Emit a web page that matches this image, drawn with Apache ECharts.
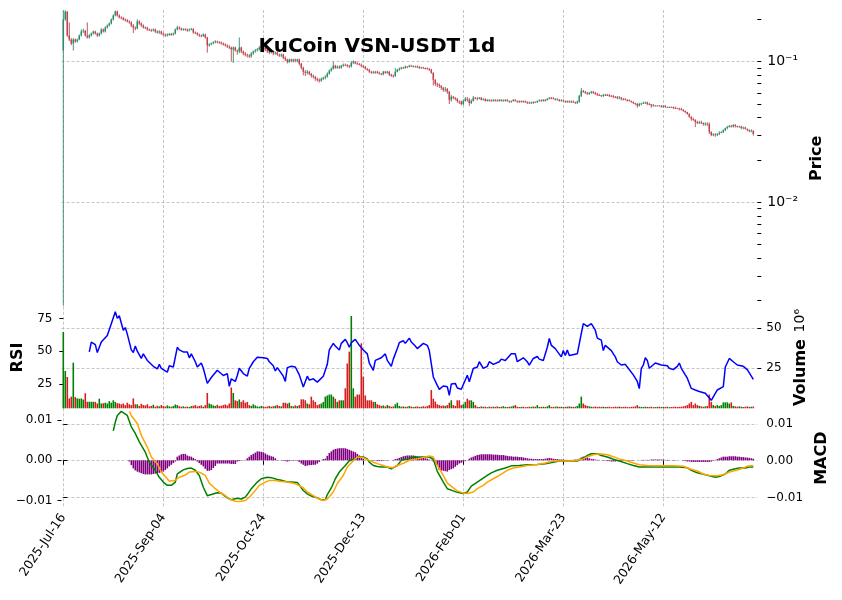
<!DOCTYPE html>
<html><head><meta charset="utf-8">
<script src="https://cdn.jsdelivr.net/npm/echarts@6/dist/echarts.min.js"></script>
<style>html,body{margin:0;padding:0;background:#fff}#c{width:842px;height:600px}</style>
</head><body><div id="c"></div>
<script>
// ---------------- DATA ----------------
const tickIndex = [0, 50, 100, 150, 200, 250, 300];
const tickLabels = ['2025-Jul-16','2025-Sep-04','2025-Oct-24','2025-Dec-13','2026-Feb-01','2026-Mar-23','2026-May-12'];

const opens = [
0.120,0.200,0.2275,0.1535,0.1438,0.1347,0.1438,0.1392,0.1438,0.1535,
0.1639,0.1660,0.1535,0.1486,0.1535,0.1586,0.1639,0.1586,0.1535,0.1586,
0.1694,0.1639,0.1750,0.1808,0.1868,0.1995,0.2130,0.2275,0.2130,0.2061,
0.2040,0.1995,0.1970,0.1931,0.1900,0.1808,0.1750,0.1720,0.1931,0.1868,
0.1808,0.1750,0.1740,0.1694,0.1680,0.1666,0.1694,0.1639,0.1613,0.1639,
0.1586,0.1561,0.1535,0.1561,0.1570,0.1561,0.1586,0.1694,0.1750,0.1722,
0.1694,0.1700,0.1694,0.1666,0.1694,0.1710,0.1613,0.1600,0.1561,0.1535,
0.1520,0.1561,0.1486,0.1304,0.1325,0.1347,0.1369,0.1392,0.1380,0.1369,
0.1347,0.1325,0.1304,0.1282,0.1259,0.1218,0.1259,0.1200,0.1179,0.1259,
0.1179,0.1141,0.1120,0.1104,0.1090,0.1141,0.1179,0.1200,0.1218,0.1259,
0.1282,0.1259,0.1218,0.1179,0.1161,0.1179,0.1141,0.1161,0.1123,0.1104,
0.1123,0.1068,0.1034,0.1000,0.1034,0.1017,0.1034,0.1017,0.1034,0.0968,
0.0906,0.0848,0.0834,0.0848,0.0821,0.0794,0.0781,0.0756,0.0744,0.0732,
0.0756,0.0769,0.0781,0.0821,0.0862,0.0891,0.0936,0.0906,0.0921,0.0906,
0.0936,0.0952,0.0945,0.0935,0.0925,0.0984,0.1000,0.0975,0.0960,0.0952,
0.0936,0.0921,0.0891,0.0877,0.0848,0.0840,0.0834,0.0848,0.0834,0.0821,
0.0815,0.0848,0.0834,0.0848,0.0807,0.0794,0.0790,0.0848,0.0877,0.0891,
0.0906,0.0900,0.0921,0.0915,0.0936,0.0930,0.0921,0.0925,0.0915,0.0906,
0.0910,0.0900,0.0895,0.0891,0.0877,0.0834,0.0744,0.0697,0.0685,0.0674,
0.0652,0.0631,0.0640,0.0611,0.0535,0.0562,0.0553,0.0544,0.0526,0.0518,
0.0501,0.0526,0.0544,0.0535,0.0509,0.0526,0.0553,0.0548,0.0544,0.0553,
0.0535,0.0540,0.0526,0.0535,0.0530,0.0526,0.0535,0.0530,0.0526,0.0535,
0.0526,0.0530,0.0535,0.0526,0.0518,0.0526,0.0535,0.0526,0.0522,0.0518,
0.0526,0.0522,0.0518,0.0512,0.0509,0.0512,0.0518,0.0515,0.0526,0.0530,
0.0526,0.0535,0.0532,0.0544,0.0553,0.0550,0.0544,0.0535,0.0538,0.0526,
0.0530,0.0526,0.0518,0.0522,0.0518,0.0520,0.0515,0.0509,0.0518,0.0572,
0.0621,0.0611,0.0601,0.0591,0.0601,0.0611,0.0601,0.0591,0.0581,0.0578,
0.0572,0.0578,0.0581,0.0578,0.0572,0.0568,0.0562,0.0560,0.0553,0.0556,
0.0544,0.0540,0.0535,0.0532,0.0526,0.0518,0.0509,0.0501,0.0485,0.0501,
0.0505,0.0509,0.0512,0.0501,0.0498,0.0485,0.0488,0.0485,0.0488,0.0485,
0.0480,0.0485,0.0477,0.0475,0.0477,0.0474,0.0470,0.0469,0.0465,0.0461,
0.0454,0.0446,0.0439,0.0425,0.0404,0.0391,0.0385,0.0373,0.0366,0.0370,
0.0366,0.0361,0.0364,0.0361,0.0316,0.0301,0.0304,0.0301,0.0306,0.0311,
0.0316,0.0327,0.0338,0.0343,0.0349,0.0346,0.0355,0.0349,0.0343,0.0346,
0.0338,0.0340,0.0332,0.0327,0.0321,0.0323];

const closes = [
0.200,0.2275,0.1535,0.1438,0.1347,0.1438,0.1392,0.1438,0.1535,0.1639,
0.1660,0.1535,0.1486,0.1535,0.1586,0.1639,0.1586,0.1535,0.1586,0.1694,
0.1639,0.1750,0.1808,0.1868,0.1995,0.2130,0.2275,0.2130,0.2061,0.2040,
0.1995,0.1970,0.1931,0.1900,0.1808,0.1750,0.1720,0.1931,0.1868,0.1808,
0.1750,0.1740,0.1694,0.1680,0.1666,0.1694,0.1639,0.1613,0.1639,0.1586,
0.1561,0.1535,0.1561,0.1570,0.1561,0.1586,0.1694,0.1750,0.1722,0.1694,
0.1700,0.1694,0.1666,0.1694,0.1710,0.1613,0.1600,0.1561,0.1535,0.1520,
0.1561,0.1486,0.1304,0.1325,0.1347,0.1369,0.1392,0.1380,0.1369,0.1347,
0.1325,0.1304,0.1282,0.1259,0.1218,0.1259,0.1200,0.1179,0.1259,0.1179,
0.1141,0.1120,0.1104,0.1090,0.1141,0.1179,0.1200,0.1218,0.1259,0.1282,
0.1259,0.1218,0.1179,0.1161,0.1179,0.1141,0.1161,0.1123,0.1104,0.1123,
0.1068,0.1034,0.1000,0.1034,0.1017,0.1034,0.1017,0.1034,0.0968,0.0906,
0.0848,0.0834,0.0848,0.0821,0.0794,0.0781,0.0756,0.0744,0.0732,0.0756,
0.0769,0.0781,0.0821,0.0862,0.0891,0.0936,0.0906,0.0921,0.0906,0.0936,
0.0952,0.0945,0.0935,0.0925,0.0984,0.1000,0.0975,0.0960,0.0952,0.0936,
0.0921,0.0891,0.0877,0.0848,0.0840,0.0834,0.0848,0.0834,0.0821,0.0815,
0.0848,0.0834,0.0848,0.0807,0.0794,0.0790,0.0848,0.0877,0.0891,0.0906,
0.0900,0.0921,0.0915,0.0936,0.0930,0.0921,0.0925,0.0915,0.0906,0.0910,
0.0900,0.0895,0.0891,0.0877,0.0834,0.0744,0.0697,0.0685,0.0674,0.0652,
0.0631,0.0640,0.0611,0.0535,0.0562,0.0553,0.0544,0.0526,0.0518,0.0501,
0.0526,0.0544,0.0535,0.0509,0.0526,0.0553,0.0548,0.0544,0.0553,0.0535,
0.0540,0.0526,0.0535,0.0530,0.0526,0.0535,0.0530,0.0526,0.0535,0.0526,
0.0530,0.0535,0.0526,0.0518,0.0526,0.0535,0.0526,0.0522,0.0518,0.0526,
0.0522,0.0518,0.0512,0.0509,0.0512,0.0518,0.0515,0.0526,0.0530,0.0526,
0.0535,0.0532,0.0544,0.0553,0.0550,0.0544,0.0535,0.0538,0.0526,0.0530,
0.0526,0.0518,0.0522,0.0518,0.0520,0.0515,0.0509,0.0518,0.0572,0.0621,
0.0611,0.0601,0.0591,0.0601,0.0611,0.0601,0.0591,0.0581,0.0578,0.0572,
0.0578,0.0581,0.0578,0.0572,0.0568,0.0562,0.0560,0.0553,0.0556,0.0544,
0.0540,0.0535,0.0532,0.0526,0.0518,0.0509,0.0501,0.0485,0.0501,0.0505,
0.0509,0.0512,0.0501,0.0498,0.0485,0.0488,0.0485,0.0488,0.0485,0.0480,
0.0485,0.0477,0.0475,0.0477,0.0474,0.0470,0.0469,0.0465,0.0461,0.0454,
0.0446,0.0439,0.0425,0.0404,0.0391,0.0385,0.0373,0.0366,0.0370,0.0366,
0.0361,0.0364,0.0361,0.0316,0.0301,0.0304,0.0301,0.0306,0.0311,0.0316,
0.0327,0.0338,0.0343,0.0349,0.0346,0.0355,0.0349,0.0343,0.0346,0.0338,
0.0340,0.0332,0.0327,0.0321,0.0323,0.0306];

const highs = [
0.232,0.232,0.2275,0.190,0.147,0.147,0.146,0.146,0.156,0.170,
0.172,0.168,0.190,0.157,0.161,0.166,0.166,0.161,0.161,0.173,
0.172,0.178,0.184,0.190,0.203,0.217,0.231,0.231,0.217,0.210,
0.208,0.203,0.201,0.197,0.194,0.185,0.178,0.200,0.197,0.190,
0.184,0.178,0.177,0.172,0.171,0.172,0.172,0.167,0.167,0.166,
0.161,0.158,0.159,0.160,0.160,0.161,0.172,0.180,0.178,0.175,
0.173,0.173,0.172,0.172,0.174,0.173,0.164,0.162,0.158,0.156,
0.159,0.158,0.150,0.135,0.137,0.140,0.142,0.141,0.140,0.139,
0.137,0.135,0.133,0.131,0.128,0.128,0.128,0.122,0.1486,0.128,
0.120,0.117,0.114,0.113,0.117,0.120,0.123,0.125,0.129,0.131,
0.131,0.128,0.124,0.120,0.120,0.120,0.118,0.118,0.114,0.114,
0.114,0.109,0.105,0.105,0.105,0.105,0.105,0.105,0.105,0.098,
0.092,0.087,0.087,0.086,0.083,0.081,0.079,0.077,0.076,0.077,
0.078,0.080,0.084,0.088,0.091,0.100,0.095,0.094,0.094,0.095,
0.097,0.097,0.096,0.095,0.101,0.102,0.101,0.099,0.098,0.097,
0.095,0.093,0.090,0.089,0.086,0.086,0.086,0.086,0.085,0.083,
0.086,0.086,0.086,0.086,0.082,0.081,0.090,0.089,0.091,0.092,
0.092,0.094,0.093,0.095,0.095,0.094,0.094,0.094,0.093,0.092,
0.092,0.091,0.091,0.090,0.089,0.084,0.075,0.071,0.070,0.068,
0.066,0.066,0.065,0.062,0.058,0.057,0.056,0.055,0.053,0.053,
0.054,0.056,0.056,0.055,0.054,0.057,0.056,0.056,0.056,0.056,
0.055,0.055,0.054,0.054,0.054,0.054,0.054,0.054,0.054,0.054,
0.054,0.054,0.054,0.053,0.053,0.054,0.054,0.053,0.053,0.053,
0.053,0.053,0.052,0.052,0.052,0.052,0.052,0.053,0.054,0.054,
0.054,0.054,0.055,0.056,0.056,0.056,0.055,0.055,0.054,0.054,
0.054,0.053,0.053,0.053,0.053,0.053,0.052,0.053,0.058,0.065,
0.063,0.062,0.061,0.061,0.062,0.062,0.061,0.060,0.059,0.058,
0.059,0.059,0.059,0.059,0.058,0.058,0.057,0.057,0.057,0.056,
0.055,0.055,0.054,0.054,0.053,0.052,0.051,0.051,0.051,0.051,
0.052,0.052,0.052,0.051,0.050,0.050,0.049,0.049,0.049,0.049,
0.049,0.049,0.048,0.048,0.048,0.048,0.048,0.047,0.047,0.047,
0.046,0.045,0.044,0.043,0.041,0.040,0.039,0.038,0.038,0.038,
0.037,0.037,0.037,0.037,0.032,0.031,0.031,0.031,0.032,0.032,
0.033,0.034,0.035,0.0355,0.0355,0.036,0.036,0.035,0.035,0.035,
0.0345,0.0345,0.0335,0.033,0.033,0.0325];

const lows = [
0.00185,0.195,0.150,0.140,0.131,0.120,0.136,0.137,0.142,0.151,
0.160,0.151,0.146,0.146,0.151,0.156,0.156,0.150,0.151,0.156,
0.161,0.161,0.172,0.178,0.184,0.196,0.210,0.209,0.203,0.200,
0.196,0.193,0.190,0.186,0.176,0.160,0.167,0.170,0.183,0.177,
0.172,0.171,0.166,0.165,0.163,0.164,0.160,0.158,0.158,0.155,
0.153,0.150,0.151,0.153,0.153,0.153,0.156,0.167,0.169,0.166,
0.166,0.166,0.163,0.164,0.167,0.158,0.157,0.153,0.150,0.149,
0.150,0.146,0.116,0.128,0.131,0.133,0.135,0.135,0.134,0.132,
0.130,0.128,0.125,0.123,0.100,0.098,0.118,0.112,0.115,0.115,
0.111,0.109,0.107,0.106,0.107,0.112,0.116,0.118,0.120,0.124,
0.123,0.119,0.115,0.113,0.114,0.111,0.112,0.110,0.108,0.108,
0.104,0.101,0.097,0.098,0.099,0.099,0.099,0.099,0.094,0.088,
0.080,0.079,0.081,0.080,0.077,0.076,0.073,0.072,0.071,0.072,
0.074,0.075,0.077,0.081,0.085,0.088,0.089,0.089,0.089,0.089,
0.092,0.093,0.091,0.090,0.091,0.096,0.096,0.095,0.094,0.091,
0.090,0.088,0.086,0.083,0.082,0.082,0.082,0.082,0.081,0.080,
0.080,0.082,0.082,0.079,0.078,0.077,0.078,0.084,0.086,0.088,
0.089,0.089,0.090,0.091,0.092,0.091,0.091,0.090,0.089,0.089,
0.089,0.088,0.088,0.086,0.082,0.068,0.067,0.066,0.065,0.063,
0.061,0.061,0.059,0.050,0.052,0.054,0.053,0.051,0.050,0.049,
0.049,0.052,0.052,0.0485,0.050,0.052,0.054,0.053,0.054,0.053,
0.053,0.052,0.052,0.052,0.052,0.052,0.052,0.052,0.052,0.052,
0.052,0.052,0.052,0.051,0.051,0.052,0.052,0.051,0.051,0.051,
0.051,0.051,0.050,0.050,0.050,0.050,0.051,0.051,0.052,0.052,
0.052,0.052,0.053,0.054,0.054,0.054,0.053,0.053,0.052,0.052,
0.052,0.051,0.051,0.051,0.051,0.051,0.050,0.050,0.051,0.056,
0.060,0.059,0.058,0.058,0.059,0.059,0.058,0.057,0.057,0.056,
0.056,0.057,0.057,0.056,0.056,0.055,0.055,0.054,0.054,0.053,
0.053,0.053,0.052,0.052,0.051,0.050,0.049,0.047,0.048,0.049,
0.050,0.050,0.049,0.049,0.047,0.048,0.048,0.048,0.048,0.047,
0.047,0.047,0.047,0.047,0.047,0.046,0.046,0.046,0.045,0.045,
0.044,0.043,0.042,0.040,0.038,0.038,0.0343,0.036,0.036,0.036,
0.035,0.035,0.035,0.0306,0.0295,0.0295,0.0292,0.0296,0.030,0.031,
0.031,0.032,0.033,0.034,0.034,0.034,0.034,0.034,0.034,0.033,
0.033,0.033,0.032,0.0315,0.0315,0.0298];

// volume, in millions
const volumes = [
47.7,23.3,19.6,6.2,7.3,28.5,7.0,6.2,6.0,6.2,
5.5,9.4,4.1,4.1,4.1,4.1,4.0,3.0,6.0,3.0,
3.2,3.5,3.0,4.5,3.5,5.0,4.0,3.2,3.0,2.5,
3.0,2.0,3.5,2.5,2.0,6.2,2.5,2.5,1.5,2.8,
2.0,1.8,2.5,1.2,1.5,2.2,1.0,1.6,1.2,2.0,
1.4,1.1,1.8,1.2,1.0,1.5,2.4,2.0,1.3,1.0,
1.2,0.9,1.1,0.8,1.4,1.6,2.0,1.2,1.5,1.8,
1.0,2.0,9.6,3.0,2.5,1.8,1.5,2.2,1.4,1.6,
2.0,2.4,1.8,3.0,13.0,9.6,5.0,4.5,5.5,4.0,
5.0,3.5,4.0,2.0,1.5,2.5,1.8,1.2,1.0,1.5,
1.2,0.9,1.1,1.5,1.0,1.3,1.6,2.0,1.4,1.2,
3.5,3.5,3.0,3.5,1.5,1.2,1.8,1.4,2.0,5.6,
5.6,5.0,3.0,2.5,7.3,5.0,4.0,2.0,2.5,3.0,
4.0,7.3,8.0,8.6,8.6,7.3,6.0,4.0,5.0,5.0,
5.0,12.5,28.0,35.4,57.7,12.5,7.3,8.6,8.6,40.6,
19.8,8.0,5.0,5.0,5.0,4.0,4.0,2.5,2.0,1.5,
1.8,1.2,2.0,1.5,1.0,1.2,2.5,3.5,1.5,1.0,
1.2,0.9,1.0,1.4,1.1,0.8,1.0,1.2,0.9,1.0,
1.3,1.0,1.5,2.0,11.4,6.0,4.2,2.5,2.0,1.5,
1.8,1.5,2.0,3.5,5.0,2.0,1.5,5.0,5.0,2.0,
2.5,4.0,6.0,5.0,5.0,4.0,2.0,1.0,0.8,1.2,
0.9,1.0,0.7,1.1,0.8,1.0,0.9,1.2,0.8,1.0,
1.3,0.9,0.8,1.0,1.1,1.5,2.0,1.0,0.8,0.9,
1.0,0.7,0.8,1.0,0.9,1.1,1.0,2.0,0.8,0.9,
1.0,0.8,1.2,2.0,0.9,0.8,1.0,1.1,0.9,1.0,
0.8,0.9,1.0,1.2,1.0,0.9,1.0,1.5,3.0,7.3,
3.0,2.0,1.5,1.2,1.0,0.9,1.1,0.8,1.0,0.9,
1.0,0.8,0.9,1.0,0.7,0.8,1.0,0.9,1.1,0.8,
0.9,1.0,0.8,0.7,0.9,1.0,1.2,2.0,1.0,0.9,
0.8,1.0,0.9,0.8,1.0,0.7,0.8,0.9,1.0,0.8,
0.9,0.8,1.0,0.7,0.8,0.9,1.0,0.8,0.9,1.0,
1.2,1.5,2.0,3.0,4.0,2.0,3.0,2.0,1.5,1.2,
1.0,1.2,1.5,8.6,4.0,2.0,1.5,2.0,1.5,2.0,
3.7,3.7,3.7,3.0,3.7,1.5,1.2,1.0,1.2,1.0,
0.8,1.0,1.2,0.9,1.0,1.1];

// RSI readings [day index, value]
const rsiPoints = [[13,49.5],[14,57],[16,55],[17,49],[18,49],[19,57],[20,58],[22,62],[24,71],[26,80],[27,75],[28,77],[30,66],[31,68],[32,63],[34,51],[35,49],[36,54],[37,50],[38,51],[39,44.6],[40,48],[42,43],[43,42],[45,38.5],[47,36.5],[48,40],[49,37],[52,34],[53,39],[55,38],[57,53],[58,51],[60,49.5],[62,49.5],[63,45],[64,48],[66,42],[67,38],[69,41],[70,37],[72,25.5],[74,30],[75,31],[77,35.5],[78,34],[80,31.5],[82,33],[83,23.3],[84,29],[85,27.5],[86,27],[87,31.5],[88,37],[90,33],[92,31],[93,37],[95,42],[97,45.5],[98,45],[100,45],[102,44.5],[103,42],[105,39],[106,35],[107,37.5],[108,36],[110,31],[111,27],[112,37.5],[113,36],[114,38.5],[116,38],[117,38.5],[118,32],[120,22.8],[122,31],[123,28],[125,29],[127,26.5],[128,26],[130,31],[132,40],[133,51],[135,56],[136,54],[137,55],[138,51],[139,56],[141,59],[142,56.5],[143,53],[144,56.5],[146,59],[147,60],[148,54.5],[150,51],[152,48],[153,41],[155,35.5],[156,43],[157,42.5],[159,45],[161,48],[162,43],[164,38.5],[165,44],[167,52],[168,56.5],[169,56],[170,58],[171,56],[173,60],[174,57],[176,54],[177,52],[178,52],[180,56],[182,54.5],[183,50.5],[185,30.4],[187,24],[188,21],[190,23.5],[192,23],[193,16.4],[194,25],[196,25.5],[197,22],[199,21],[202,31.7],[203,26.8],[205,36.8],[207,38],[208,42],[210,37],[212,38.5],[213,42],[215,40],[218,42],[219,44],[221,43],[222,44.5],[224,48],[226,48],[227,42],[228,43],[230,45],[232,42],[233,39.5],[235,44.5],[237,46],[238,44],[240,43],[242,53],[243,59.7],[244,54.5],[246,52],[247,50.5],[249,45.7],[250,50.5],[251,46.7],[252,51],[253,46.7],[254,45.7],[257,48],[258,46.7],[259,63.5],[260,71],[261,70],[262,69],[264,71],[266,66],[267,60],[269,58.5],[270,50.5],[271,54.5],[272,53],[274,50.5],[276,45.7],[277,42],[279,39.5],[281,40],[282,38],[283,37],[285,32],[287,27],[288,21.5],[289,37],[290,39.5],[291,45],[292,43],[293,37],[294,36],[296,41],[297,42],[299,39.5],[300,41],[302,39],[303,37],[305,36],[307,38.5],[308,41],[309,37],[311,32],[312,29.5],[314,21.7],[316,20.5],[318,19.4],[321,18],[322,18],[324,12.6],[325,11.4],[327,20.5],[328,21.5],[330,23],[331,38],[332,39.5],[333,44.5],[335,42],[337,39.5],[338,39],[340,38.5],[342,36],[343,33.5],[345,28.5]];

// MACD line readings [day index, value]
const macdPoints = [[25,0.0081],[26,0.0105],[27,0.0123],[29,0.0134],[30,0.0131],[32,0.0123],[34,0.0092],[36,0.0074],[38,0.0051],[41,0.0023],[43,-0.0004],[46,-0.0026],[48,-0.0045],[50,-0.0058],[52,-0.0067],[54,-0.0067],[56,-0.0058],[57,-0.0036],[60,-0.0025],[62,-0.0021],[64,-0.002],[66,-0.0026],[68,-0.004],[70,-0.0072],[72,-0.0095],[74,-0.0092],[77,-0.0087],[79,-0.0088],[82,-0.0101],[84,-0.0106],[87,-0.0102],[89,-0.0104],[91,-0.0099],[92,-0.0092],[94,-0.0076],[97,-0.0058],[99,-0.0049],[102,-0.0045],[104,-0.0046],[107,-0.0051],[109,-0.0053],[112,-0.0058],[114,-0.0058],[117,-0.0059],[118,-0.0058],[120,-0.0081],[122,-0.009],[124,-0.0096],[127,-0.0101],[129,-0.0106],[131,-0.0106],[132,-0.0092],[134,-0.0074],[136,-0.0049],[138,-0.0031],[141,-0.0013],[143,0],[146,0.0005],[148,0.001],[150,0.001],[152,0.0005],[153,-0.0004],[155,-0.0013],[157,-0.0016],[159,-0.0017],[162,-0.0017],[164,-0.0022],[167,-0.0013],[169,0.0001],[172,0.0005],[175,0.001],[178,0.001],[183,0.001],[185,0.0004],[187,-0.0029],[190,-0.0058],[192,-0.0076],[195,-0.0082],[197,-0.0086],[200,-0.0089],[202,-0.0085],[204,-0.0069],[207,-0.0058],[209,-0.0051],[212,-0.004],[214,-0.0033],[217,-0.0026],[221,-0.002],[224,-0.0014],[228,-0.0013],[232,-0.0011],[237,-0.001],[241,-0.0008],[245,-0.0004],[248,-0.0001],[252,-0.0001],[257,-0.0001],[259,0.0005],[262,0.0014],[264,0.0019],[267,0.0019],[269,0.0014],[272,0.001],[275,0.0004],[278,-0.0001],[282,-0.0008],[285,-0.0013],[288,-0.0017],[293,-0.0017],[298,-0.0017],[303,-0.0017],[308,-0.0017],[312,-0.0019],[314,-0.0026],[317,-0.0033],[320,-0.0037],[323,-0.0041],[326,-0.0045],[328,-0.0043],[331,-0.0036],[333,-0.0026],[336,-0.0022],[338,-0.002],[341,-0.002],[343,-0.0017],[345,-0.0017]];

// Signal line readings [day index, value]
const signalPoints = [[33,0.0134],[34,0.0123],[37,0.0101],[39,0.0069],[42,0.0037],[44,0.001],[47,-0.0008],[49,-0.0031],[52,-0.0049],[53,-0.0056],[56,-0.0053],[58,-0.0045],[61,-0.0039],[63,-0.0031],[66,-0.0029],[68,-0.0031],[71,-0.004],[73,-0.0061],[76,-0.0076],[78,-0.0085],[81,-0.0095],[83,-0.0104],[86,-0.011],[88,-0.0111],[91,-0.0108],[93,-0.0099],[96,-0.0081],[98,-0.0067],[101,-0.0058],[103,-0.0054],[106,-0.0054],[108,-0.0056],[112,-0.0058],[115,-0.0061],[117,-0.0065],[120,-0.0074],[122,-0.0085],[125,-0.0095],[127,-0.0102],[130,-0.0108],[132,-0.0104],[135,-0.0085],[137,-0.0062],[140,-0.004],[142,-0.0017],[145,0],[147,0.001],[150,0.0008],[152,0.0003],[155,-0.0004],[157,-0.0008],[160,-0.0013],[162,-0.0017],[165,-0.0019],[167,-0.0013],[170,-0.0007],[173,0.0001],[177,0.0005],[178,0.0007],[183,0.0013],[185,0.001],[187,-0.0013],[190,-0.004],[192,-0.0061],[195,-0.0074],[197,-0.0082],[200,-0.0088],[202,-0.0089],[205,-0.0085],[207,-0.0076],[210,-0.0067],[212,-0.0058],[215,-0.0049],[218,-0.004],[222,-0.0026],[225,-0.002],[228,-0.0017],[232,-0.0013],[237,-0.001],[241,-0.0006],[245,-0.0001],[249,-0.0001],[253,-0.0001],[257,0.0001],[260,0.0005],[262,0.0011],[265,0.0016],[268,0.0019],[272,0.0016],[275,0.0011],[278,0.0005],[282,-0.0001],[285,-0.0006],[288,-0.0011],[292,-0.0013],[295,-0.0014],[300,-0.0014],[305,-0.0014],[310,-0.0015],[313,-0.0022],[317,-0.0028],[320,-0.0036],[323,-0.004],[327,-0.0041],[330,-0.0038],[333,-0.0031],[337,-0.0025],[340,-0.002],[342,-0.0015],[345,-0.0013]];

// MACD histogram per day (null before it starts)
const histValues = [
null,null,null,null,null,null,null,null,null,null,
null,null,null,null,null,null,null,null,null,null,
null,null,null,null,null,null,null,null,null,null,
null,null,null,-0.0003,-0.0012,-0.0020,-0.0025,-0.0028,-0.0030,-0.0032,
-0.0034,-0.0035,-0.0035,-0.0035,-0.0035,-0.0034,-0.0033,-0.0032,-0.0031,-0.0030,
-0.0028,-0.0024,-0.0020,-0.0015,-0.0011,-0.0007,-0.0003,0.0009,0.0012,0.0015,
0.0016,0.0016,0.0012,0.0010,0.0009,0.0006,0.0003,-0.0003,-0.0007,-0.0011,
-0.0015,-0.0021,-0.0026,-0.0026,-0.0024,-0.0019,-0.0014,-0.0008,-0.0008,-0.0008,
-0.0008,-0.0008,-0.0008,-0.0008,-0.0009,-0.0009,-0.0009,-0.0003,-0.0002,-0.0001,
0,0.0001,0.0005,0.0009,0.0013,0.0016,0.0019,0.0022,0.0022,0.0021,
0.0020,0.0017,0.0014,0.0012,0.0010,0.0009,0.0005,0.0001,0,-0.0001,
-0.0001,-0.0002,-0.0003,-0.0002,-0.0001,-0.0001,-0.0001,-0.0001,-0.0004,-0.0008,
-0.0011,-0.0014,-0.0013,-0.0012,-0.0012,-0.0011,-0.0011,-0.0008,-0.0004,0,
0.0003,0.0004,0.0011,0.0018,0.0022,0.0026,0.0028,0.0029,0.0030,0.0030,
0.0030,0.0030,0.0028,0.0026,0.0024,0.0022,0.0020,0.0016,0.0012,0.0008,
0.0004,0.0001,0,-0.0001,-0.0001,-0.0001,-0.0001,-0.0002,-0.0002,-0.0002,
-0.0001,-0.0001,-0.0001,0,0,0.0001,0.0003,0.0004,0.0006,0.0008,
0.0010,0.0011,0.0012,0.0012,0.0012,0.0012,0.0011,0.0009,0.0008,0.0007,
0.0006,0.0005,0.0004,0.0002,0.0001,-0.0003,-0.0008,-0.0012,-0.0024,-0.0025,
-0.0026,-0.0027,-0.0028,-0.0024,-0.0022,-0.0020,-0.0016,-0.0012,-0.0008,-0.0006,
-0.0004,-0.0002,0,0.0004,0.0007,0.0009,0.0011,0.0013,0.0014,0.0015,
0.0015,0.0015,0.0015,0.0015,0.0015,0.0014,0.0014,0.0014,0.0013,0.0013,
0.0013,0.0012,0.0011,0.0010,0.0010,0.0009,0.0009,0.0009,0.0008,0.0008,
0.0007,0.0006,0.0005,0.0004,0.0004,0.0003,0.0003,0.0003,0.0003,0.0003,
0.0003,0.0004,0.0005,0.0006,0.0005,0.0004,0.0003,0.0003,0.0002,0.0002,
0.0002,0.0001,0.0001,0,0.0001,0.0001,0.0002,0.0002,0.0004,0.0007,
0.0009,0.0008,0.0007,0.0005,0.0003,0.0003,0.0002,0.0001,0.0001,0,
-0.0001,-0.0001,-0.0002,-0.0002,-0.0003,-0.0003,-0.0003,-0.0002,-0.0002,-0.0002,
-0.0001,-0.0001,-0.0001,-0.0001,-0.0001,-0.0001,0,0,0,0.0001,
0.0001,0.0001,0.0001,0.0001,0.0002,0.0002,0.0002,0.0002,0.0002,0.0002,
0.0002,0.0001,0.0001,0.0001,0,-0.0001,-0.0001,0,0,0,
-0.0001,-0.0002,-0.0003,-0.0003,-0.0004,-0.0004,-0.0004,-0.0004,-0.0004,-0.0004,
-0.0004,-0.0004,-0.0004,-0.0004,-0.0003,-0.0001,0.0001,0.0003,0.0005,0.0007,
0.0009,0.0009,0.0009,0.0010,0.0010,0.0010,0.0010,0.0009,0.0009,0.0008,
0.0008,0.0007,0.0007,0.0006,0.0005,0.0004];

const priceTickValues = [0.002,0.003,0.004,0.005,0.006,0.007,0.008,0.009,0.01,0.02,0.03,0.04,0.05,0.06,0.07,0.08,0.09,0.1,0.2];

// ---------------- STYLE / LAYOUT ----------------
const FONT = 'DejaVu Sans';
const UP = '#2e8b66', DOWN = '#c0424c';
const VUP = '#008000', VDOWN = '#d21e1e';
const L = 61.5, W = 695.8;
const gridLine = {show: true, lineStyle: {color: '#b8b8b8', width: 0.8, type: [3, 2]}};
const tickStyle = {lineStyle: {color: '#000', width: 1}};
const lbl = {fontFamily: FONT, fontSize: 12, color: '#000'};
const nameStyle = {fontFamily: FONT, fontSize: 16, fontWeight: 'bold', color: '#000'};

const grids = [
  {left: L, top: 10, width: W, height: 296.7, outerBoundsMode: 'none'},
  {left: L, top: 306.7, width: W, height: 101.6, outerBoundsMode: 'none'},
  {left: L, top: 408.3, width: W, height: 99.7, outerBoundsMode: 'none'}
];

function xAx(k) {
  return {
    type: 'value', gridIndex: k, min: -0.9, max: 347,
    axisLine: {show: false},
    axisTick: Object.assign({show: k === 2, customValues: tickIndex, length: 4}, tickStyle),
    axisLabel: Object.assign({show: k === 2, customValues: tickIndex, rotate: 56, margin: 7,
      formatter: v => tickLabels[tickIndex.indexOf(v)]}, lbl, {fontSize: 12.5}),
    splitLine: gridLine
  };
}

const sup = {'-1': '10\u207B\u00B9', '-2': '10\u207B\u00B2'};
const macdFmt = v => v === 0 ? '0.00' : (v < 0 ? '\u2212' + Math.abs(v).toFixed(2) : v.toFixed(2));

const yAxes = [
  { // 0 price (labels + grid)
    type: 'log', logBase: 10, gridIndex: 0, position: 'right', min: 0.00181, max: 0.233,
    axisLine: {show: false},
    axisTick: {show: false, customValues: [0.01, 0.1]},
    axisLabel: Object.assign({customValues: [0.01, 0.1], margin: 10,
      formatter: v => sup[String(Math.round(Math.log10(v)))]}, lbl, {fontSize: 14}),
    splitLine: gridLine,
    name: 'Price', nameLocation: 'middle', nameRotate: 90, nameGap: 47, nameTextStyle: nameStyle
  },
  { // 1 price ticks
    type: 'log', logBase: 10, gridIndex: 0, position: 'right', min: 0.00181, max: 0.233,
    axisLine: {show: false},
    axisTick: Object.assign({show: true, customValues: priceTickValues, length: 4}, tickStyle),
    axisLabel: {show: false},
    splitLine: {show: false}
  },
  { // 2 RSI (left)
    type: 'value', gridIndex: 1, position: 'left', min: 6.55, max: 83.9,
    axisLine: {show: false},
    axisTick: Object.assign({customValues: [25, 50, 75], length: 4}, tickStyle),
    axisLabel: Object.assign({customValues: [25, 50, 75], margin: 9}, lbl),
    splitLine: {show: false},
    name: 'RSI', nameLocation: 'middle', nameRotate: 90, nameGap: 26, nameTextStyle: nameStyle
  },
  { // 3 Volume (right)
    type: 'value', gridIndex: 1, position: 'right', min: 0, max: 63.5,
    axisLine: {show: false},
    axisTick: Object.assign({customValues: [25, 50], length: 4}, tickStyle),
    axisLabel: Object.assign({customValues: [25, 50], margin: 9}, lbl),
    splitLine: gridLine,
    name: '{b|Volume}  {n|10\u2076}', nameLocation: 'middle', nameRotate: 90, nameGap: 31,
    nameTextStyle: {rich: {b: nameStyle, n: {fontFamily: FONT, fontSize: 14, color: '#000'}}}
  },
  { // 4 MACD lines (right)
    type: 'value', gridIndex: 2, position: 'right', min: -0.01285, max: 0.01424,
    axisLine: {show: false},
    axisTick: Object.assign({customValues: [-0.01, 0, 0.01], length: 4}, tickStyle),
    axisLabel: Object.assign({customValues: [-0.01, 0, 0.01], margin: 9, formatter: macdFmt}, lbl),
    splitLine: gridLine,
    name: 'MACD', nameLocation: 'middle', nameRotate: 90, nameGap: 57, nameTextStyle: nameStyle
  },
  { // 5 histogram (left)
    type: 'value', gridIndex: 2, position: 'left', min: -0.01182, max: 0.01289,
    axisLine: {show: false},
    axisTick: Object.assign({customValues: [-0.01, 0, 0.01], length: 4}, tickStyle),
    axisLabel: Object.assign({customValues: [-0.01, 0, 0.01], margin: 9, formatter: macdFmt}, lbl),
    splitLine: {show: false}
  }
];

const candleData = opens.map((o, i) => [i, o, closes[i], lows[i], highs[i]]);
const volData = volumes.map((v, i) => ({value: [i, v], itemStyle: {color: closes[i] >= opens[i] ? VUP : VDOWN}}));
const histData = histValues.map((v, i) => v === null ? null : [i, v]).filter(d => d !== null);

function renderCandle(params, api) {
  const x = api.value(0), o = api.value(1), c = api.value(2), lo = api.value(3), hi = api.value(4);
  const pO = api.coord([x, o]), pC = api.coord([x, c]);
  const pL = api.coord([x, lo]), pH = api.coord([x, hi]);
  const col = c >= o ? UP : DOWN;
  const bw = 1.5;
  const top = Math.min(pO[1], pC[1]);
  const h = Math.max(Math.abs(pO[1] - pC[1]), 0.8);
  return {
    type: 'group',
    children: [
      {type: 'line', shape: {x1: pH[0], y1: pH[1], x2: pL[0], y2: pL[1]}, style: {stroke: col, lineWidth: 0.9}},
      {type: 'rect', shape: {x: pO[0] - bw / 2, y: top, width: bw, height: h}, style: {fill: col}}
    ]
  };
}

const option = {
  backgroundColor: '#fff',
  animation: false,
  title: {text: 'KuCoin VSN-USDT 1d', left: 372, top: 32, textAlign: 'center',
    textStyle: {fontFamily: FONT, fontWeight: 'bold', fontSize: 20, color: '#000'}},
  grid: grids,
  xAxis: [xAx(0), xAx(1), xAx(2)],
  yAxis: yAxes,
  series: [
    {type: 'custom', xAxisIndex: 0, yAxisIndex: 0, data: candleData, renderItem: renderCandle,
      encode: {x: 0, y: [1, 2, 3, 4]}, clip: true, silent: true},
    {type: 'bar', xAxisIndex: 1, yAxisIndex: 3, data: volData, barWidth: 1.6},
    {type: 'line', xAxisIndex: 1, yAxisIndex: 2, data: rsiPoints, showSymbol: false, symbol: 'none',
      lineStyle: {color: '#0000ff', width: 1.5}, z: 5},
    {type: 'bar', xAxisIndex: 2, yAxisIndex: 5, data: histData, barWidth: 1.6, itemStyle: {color: '#800080'}},
    {type: 'line', xAxisIndex: 2, yAxisIndex: 4, data: macdPoints, showSymbol: false, symbol: 'none',
      lineStyle: {color: '#008000', width: 1.5}, z: 5},
    {type: 'line', xAxisIndex: 2, yAxisIndex: 4, data: signalPoints, showSymbol: false, symbol: 'none',
      lineStyle: {color: '#ffa500', width: 1.5}, z: 5}
  ]
};

const chart = echarts.init(document.getElementById('c'), null, {renderer: 'canvas', width: 842, height: 600});
chart.setOption(option);
</script>
</body></html>
